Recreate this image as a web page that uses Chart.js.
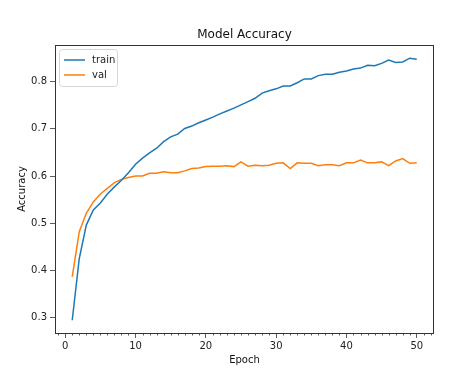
<!DOCTYPE html>
<html>
<head>
<meta charset="utf-8">
<script src="https://cdn.jsdelivr.net/npm/chart.js@4"></script>
<style>
  html, body { margin: 0; padding: 0; background: #fff; }
  #wrap { width: 469px; height: 375px; }
</style>
</head>
<body>
<div id="wrap"><canvas id="accChart" width="469" height="375"></canvas></div>
<script>
// Dados (acurácia por época)
const epochs = [1,2,3,4,5,6,7,8,9,10,11,12,13,14,15,16,17,18,19,20,21,22,23,24,25,
                26,27,28,29,30,31,32,33,34,35,36,37,38,39,40,41,42,43,44,45,46,47,48,49,50];
const trainAcc = [0.294,0.425,0.496,0.528,0.543,0.562,0.577,0.591,0.607,0.625,
                  0.638,0.649,0.659,0.673,0.683,0.689,0.701,0.706,0.713,0.719,
                  0.725,0.732,0.738,0.744,0.751,0.758,0.765,0.776,0.781,0.785,
                  0.791,0.791,0.798,0.806,0.806,0.813,0.816,0.816,0.820,0.823,
                  0.827,0.829,0.835,0.834,0.839,0.846,0.841,0.842,0.850,0.848];
const valAcc = [0.386,0.482,0.521,0.545,0.562,0.574,0.586,0.593,0.597,0.600,
                0.600,0.606,0.606,0.609,0.607,0.607,0.611,0.616,0.617,0.620,
                0.621,0.621,0.622,0.620,0.630,0.621,0.623,0.622,0.623,0.627,
                0.628,0.616,0.628,0.627,0.627,0.622,0.624,0.624,0.622,0.628,
                0.628,0.634,0.628,0.628,0.630,0.622,0.632,0.637,0.627,0.628];
const xTicks = [0, 10, 20, 30, 40, 50];
const yTicks = [0.3, 0.4, 0.5, 0.6, 0.7, 0.8];
const chartTitle = 'Model Accuracy';

const FONT = 'DejaVu Sans';
const toPoints = (ys) => epochs.map((e, i) => ({ x: e, y: ys[i] }));

// Título centrado nos eixos, moldura, ticks menores e legenda (estilo matplotlib)
const mplPlugin = {
    id: 'mpl',
    afterDraw(chart) {
        const { ctx, chartArea: a, scales } = chart;
        const xs = scales.x;
        ctx.save();

        // título
        ctx.fillStyle = '#111';
        ctx.font = '12px ' + FONT;
        ctx.textAlign = 'center';
        ctx.textBaseline = 'middle';
        ctx.fillText(chartTitle, (a.left + a.right) / 2, a.top - 10);

        // ticks menores no eixo x (a cada época)
        ctx.strokeStyle = '#333';
        ctx.lineWidth = 0.8;
        ctx.beginPath();
        for (let v = Math.ceil(xs.min); v <= Math.floor(xs.max); v++) {
            if (v % 10 === 0) continue;
            const px = Math.round(xs.getPixelForValue(v)) + 0.5;
            ctx.moveTo(px, a.bottom);
            ctx.lineTo(px, a.bottom + 2.5);
        }
        ctx.stroke();

        // moldura
        ctx.strokeStyle = '#333';
        ctx.lineWidth = 1;
        ctx.strokeRect(Math.round(a.left) + 0.5, Math.round(a.top) + 0.5,
                       Math.round(a.right - a.left) - 1, Math.round(a.bottom - a.top));

        // legenda
        const lx = a.left + 4, ly = a.top + 4;
        const w = 58, h = 37;
        ctx.fillStyle = 'rgba(255,255,255,0.8)';
        ctx.strokeStyle = '#d6d6d6';
        ctx.lineWidth = 1;
        ctx.beginPath();
        ctx.roundRect(lx + 0.5, ly + 0.5, w, h, 3);
        ctx.fill();
        ctx.stroke();
        ctx.font = '10px ' + FONT;
        ctx.textAlign = 'left';
        ctx.textBaseline = 'middle';
        chart.data.datasets.forEach((ds, i) => {
            const y = ly + 11 + i * 15;
            ctx.strokeStyle = ds.borderColor;
            ctx.lineWidth = 1.5;
            ctx.beginPath();
            ctx.moveTo(lx + 5, y);
            ctx.lineTo(lx + 26, y);
            ctx.stroke();
            ctx.fillStyle = '#222';
            ctx.fillText(ds.label, lx + 33, y);
        });
        ctx.restore();
    }
};

const ctx = document.getElementById('accChart').getContext('2d');
const accChart = new Chart(ctx, {
    type: 'line',
    data: {
        datasets: [
            { label: 'train', data: toPoints(trainAcc), borderColor: '#1f77b4',
              borderWidth: 1.5, pointRadius: 0, tension: 0, fill: false },
            { label: 'val', data: toPoints(valAcc), borderColor: '#ff7f0e',
              borderWidth: 1.5, pointRadius: 0, tension: 0, fill: false }
        ]
    },
    options: {
        responsive: false,
        animation: false,
        layout: { padding: { left: 0, right: 35, top: 45, bottom: 0 } },
        plugins: {
            legend: { display: false },
            tooltip: { enabled: false },
            title: { display: false }
        },
        scales: {
            x: {
                type: 'linear',
                min: -1.45,
                max: 52.45,
                afterBuildTicks: (s) => { s.ticks = xTicks.map(v => ({ value: v })); },
                afterFit: (s) => { s.height = 42; },
                grid: { drawOnChartArea: false, drawTicks: true, tickLength: 5, color: '#333', lineWidth: 0.8 },
                border: { display: false },
                ticks: { color: '#222', padding: 2, maxRotation: 0,
                         font: { family: FONT, size: 10 } },
                title: { display: true, text: 'Epoch', color: '#111',
                         font: { family: FONT, size: 10 }, padding: { top: 0, bottom: 9 } }
            },
            y: {
                min: 0.267,
                max: 0.878,
                afterBuildTicks: (s) => { s.ticks = yTicks.map(v => ({ value: v })); },
                afterFit: (s) => { s.width = 55; },
                grid: { drawOnChartArea: false, drawTicks: true, tickLength: 5, color: '#333', lineWidth: 0.8 },
                border: { display: false },
                ticks: { color: '#222', padding: 3,
                         font: { family: FONT, size: 10 },
                         callback: (v) => v.toFixed(1) },
                title: { display: true, text: 'Accuracy', color: '#111',
                         font: { family: FONT, size: 10 }, padding: { top: 16, bottom: 0 } }
            }
        }
    },
    plugins: [mplPlugin]
});
</script>
</body>
</html>
